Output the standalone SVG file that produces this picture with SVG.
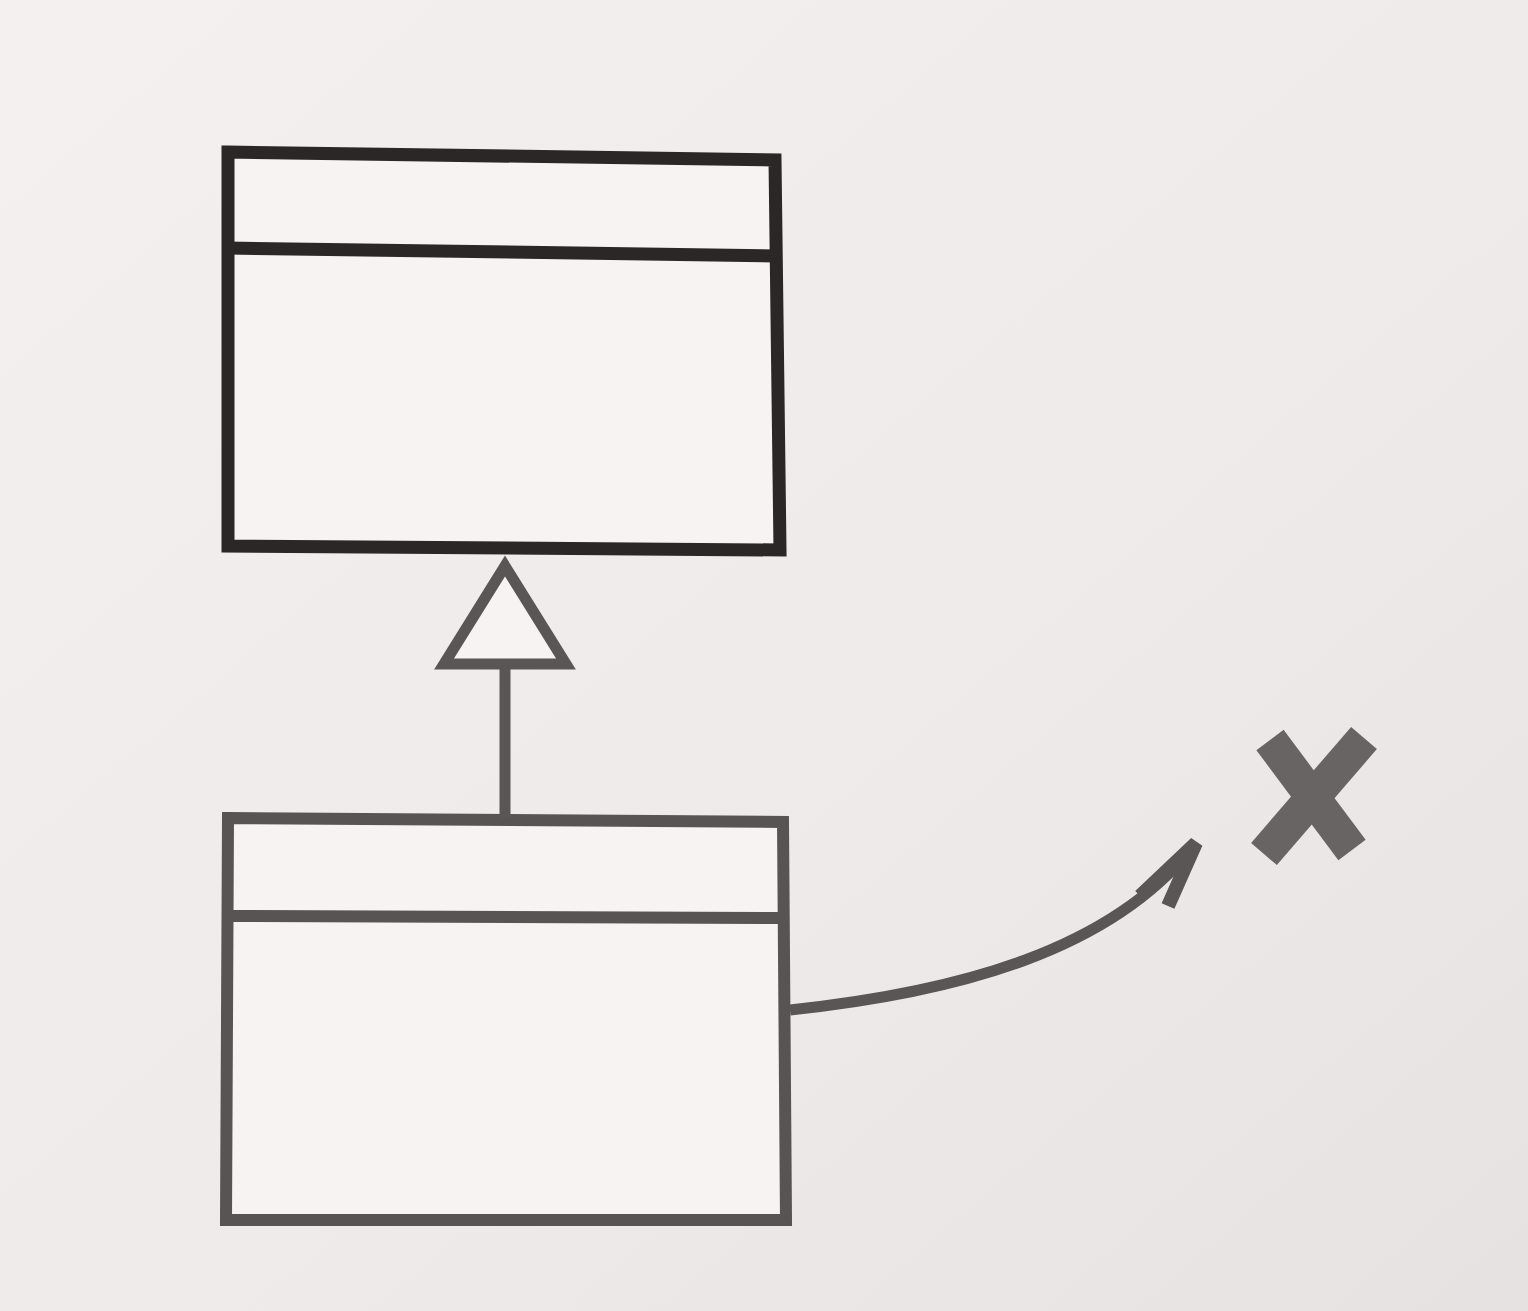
<svg xmlns="http://www.w3.org/2000/svg" width="1528" height="1311" viewBox="0 0 1528 1311">
  <defs>
    <linearGradient id="bg" x1="0" y1="0" x2="1" y2="1">
      <stop offset="0" stop-color="#f3f0ef"/>
      <stop offset="0.6" stop-color="#eeeae9"/>
      <stop offset="1" stop-color="#e6e2e1"/>
    </linearGradient>
  </defs>
  <style>
    .boxDark { fill: #f6f3f2; stroke: #2b2727; stroke-width: 13; stroke-linejoin: miter; }
    .divDark { stroke: #2b2727; stroke-width: 13; fill: none; }
    .boxGray { fill: #f6f3f2; stroke: #585454; stroke-width: 12; stroke-linejoin: miter; }
    .divGray { stroke: #585454; stroke-width: 12; fill: none; }
    .conn { stroke: #5a5656; stroke-width: 11; fill: none; }
    .head { stroke: #5a5656; stroke-width: 14; fill: none; stroke-linejoin: miter; }
    .xmark { stroke: #686464; stroke-width: 34; stroke-linecap: butt; fill: none; }
  </style>
  <rect x="0" y="0" width="1528" height="1311" fill="url(#bg)"/>

  <g id="parent-class">
    <polygon class="boxDark" points="228,152 775,160 780,550 228,546"/>
    <line class="divDark" x1="228" y1="248" x2="776" y2="256"/>
  </g>

  <g id="child-class">
    <polygon class="boxGray" points="228,818 783,822 786,1220 226,1220"/>
    <line class="divGray" x1="228" y1="916" x2="784" y2="918"/>
  </g>

  <g id="rejected-mark">
    <line class="xmark" x1="1270" y1="740" x2="1352" y2="850"/>
    <line class="xmark" x1="1364" y1="738" x2="1264" y2="854"/>
  </g>

  <g id="connectors">
    <line class="conn" x1="505" y1="818" x2="505" y2="666"/>
    <polygon points="505,566 444,664 566,664" fill="#f6f3f2" stroke="#5a5656" stroke-width="11" stroke-linejoin="miter"/>
    <path class="conn" d="M790,1010 C960,992 1110,950 1192,848"/>
    <path class="head" d="M1140,896 L1196,843 L1168,906"/>
  </g>
</svg>
